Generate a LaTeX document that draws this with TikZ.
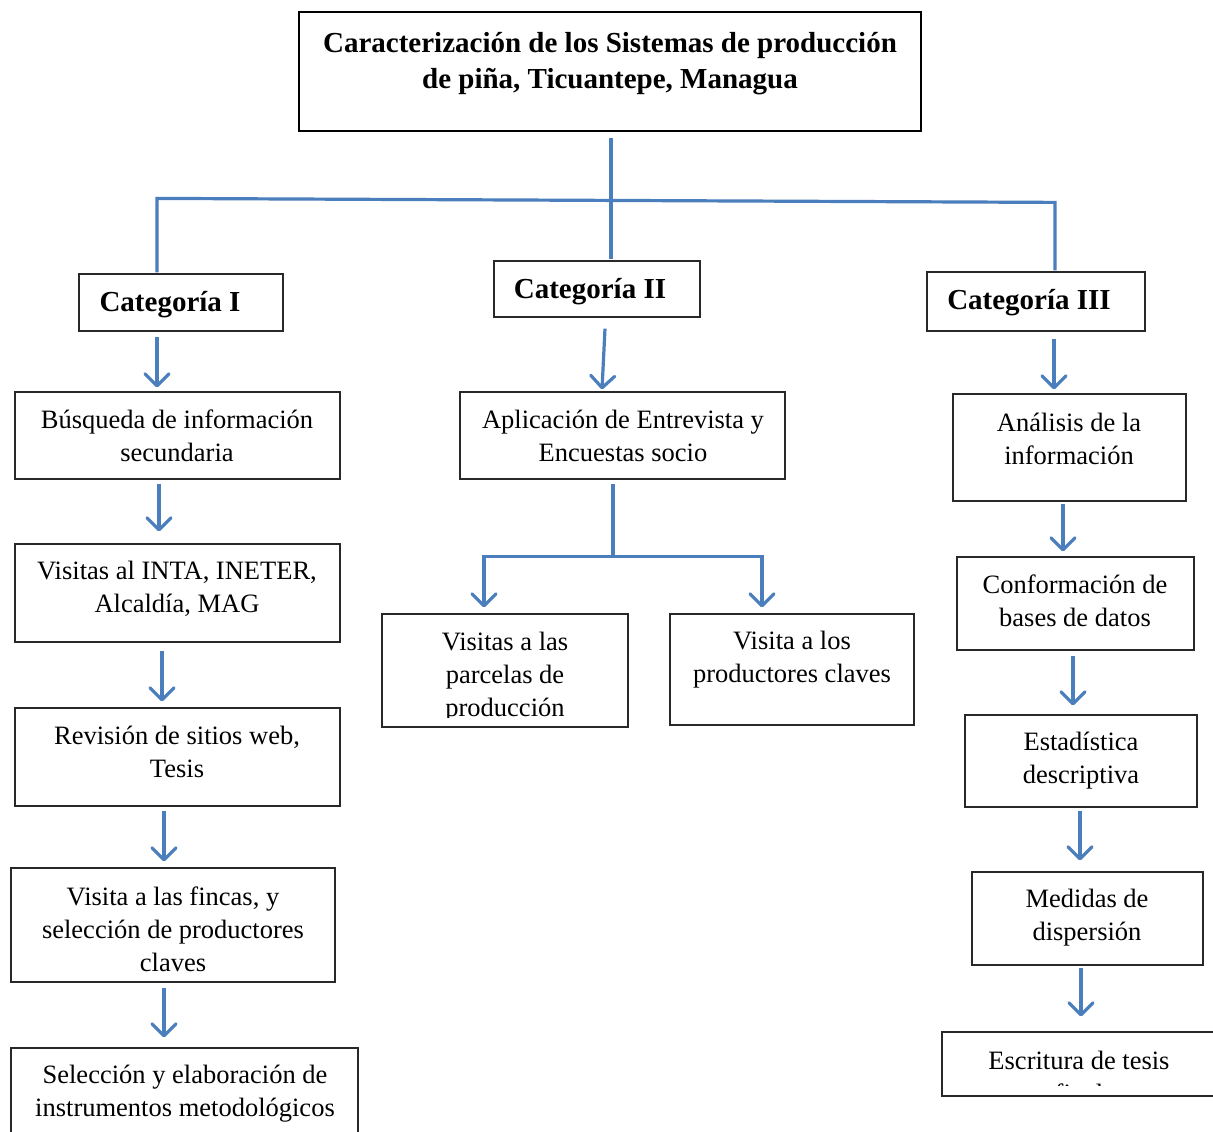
\documentclass[tikz,border=0pt]{standalone}
\usepackage{fontspec}
\setmainfont{Liberation Serif}
\usetikzlibrary{arrows.meta,calc}
\definecolor{flowblue}{RGB}{74,126,188}
\definecolor{boxline}{RGB}{40,40,40}
\tikzset{
  box/.style={draw=boxline, line width=1.2pt, inner sep=0pt, fill=white},
  titlebox/.style={draw=black, line width=2pt, inner sep=0pt},
  txt/.style={inner sep=0pt, align=center, font=\fontsize{26.5}{33}\selectfont},
  cattxt/.style={inner sep=0pt, align=center, font=\fontsize{29}{35}\selectfont\bfseries},
  flow/.style={draw=flowblue, line width=3.2pt},
  arr/.style={flow, -{Straight Barb[length=12pt,width=24pt,line cap=round,line join=round]}}
}
\begin{document}
\begin{tikzpicture}[x=1pt,y=-1pt]
\useasboundingbox (0,0) rectangle (1213,1132);
\clip (0,0) rectangle (1213,1132);
\fill[white] (0,0) rectangle (1213,1132);

% title
\node[titlebox, minimum width=622, minimum height=119] (title) at (610,71.5) {};
\node[cattxt, font=\fontsize{29}{36}\selectfont\bfseries] (titlet) at (610,64) {Caracterización de los Sistemas de producción\\de piña, Ticuantepe, Managua};

% categories
\node[box, minimum width=204, minimum height=57] (cat1) at (181,302.5) {};
\node[cattxt] (cat1t) at (170,305) {Categoría I};
\node[box, minimum width=206, minimum height=56] (cat2) at (597,289) {};
\node[cattxt] (cat2t) at (590,292) {Categoría II};
\node[box, minimum width=218, minimum height=59] (cat3) at (1036,301.5) {};
\node[cattxt] (cat3t) at (1029,303) {Categoría III};

% left column
\node[box, minimum width=325, minimum height=87] (b1) at (177.5,435.5) {};
\node[txt] (b1t) at (177,436) {Búsqueda de información\\secundaria};
\node[box, minimum width=325, minimum height=98] (b2) at (177.5,593) {};
\node[txt] (b2t) at (177,589) {Visitas al INTA, INETER,\\Alcaldía, MAG};
\node[box, minimum width=325, minimum height=98] (b3) at (177.5,757) {};
\node[txt] (b3t) at (177,752) {Revisión de sitios web,\\Tesis};
\node[box, minimum width=324, minimum height=114] (b4) at (173,925) {};
\node[txt] (b4t) at (173,929) {Visita a las fincas, y\\selección de productores\\claves};
\node[box, minimum width=347, minimum height=110] (b5) at (184.5,1103) {};
\node[txt] (b5t) at (185,1094) {Selección y elaboración de\\instrumentos metodológicos};

% middle column
\node[box, minimum width=325, minimum height=87] (c2) at (622.5,435.5) {};
\node[txt] (c2t) at (623,436) {Aplicación de Entrevista y\\Encuestas socio};
\node[box, minimum width=246, minimum height=113] (pl) at (505,670.5) {};
\begin{scope}
\clip ($(pl.north west)+(1,1)$) rectangle ($(pl.north east)+(-1,104)$);
\node[txt] (plt) at (505,677) {Visitas a las\\parcelas de\\producción};
\end{scope}
\node[box, minimum width=244, minimum height=111] (pr) at (792,669.5) {};
\node[txt] (prt) at (792,660) {Visita a los\\productores claves};

% right column
\node[box, minimum width=233, minimum height=107] (r1) at (1069.5,447.5) {};
\node[txt] (r1t) at (1069,439) {Análisis de la\\información};
\node[box, minimum width=237, minimum height=93] (r2) at (1075.5,603.5) {};
\node[txt] (r2t) at (1075,601) {Conformación de\\bases de datos};
\node[box, minimum width=232, minimum height=92] (r3) at (1081,761) {};
\node[txt] (r3t) at (1081,761) {Estadística\\descriptiva};
\node[box, minimum width=231, minimum height=93] (r4) at (1087.5,918.5) {};
\node[txt] (r4t) at (1087,918) {Medidas de\\dispersión};
\node[box, minimum width=300, minimum height=64] (r5) at (1092,1064) {};
\begin{scope}
\clip ($(r5.north west)+(1,1)$) rectangle ($(r5.north east)+(-1,54)$);
\node[txt] (r5t) at (1079,1077) {Escritura de tesis\\final};
\end{scope}

% top connectors
\draw[flow] ($(title.south)+(1,6)$) -- ($(cat2.north)+(14,-1)$);
\draw[flow] ($(cat1.north)+(-24,-1)$) -- ++(0,-74) -- ($(cat3.north)+(19,-69)$) -- ($(cat3.north)+(19,-1)$);

% left arrows
\draw[arr] ($(cat1.south)+(-24,5)$) -- ($(b1.north)+(-20.5,-4)$);
\draw[arr] ($(b1.south)+(-18.5,4)$) -- ($(b2.north)+(-18.5,-12)$);
\draw[arr] ($(b2.south)+(-15.5,8)$) -- ($(b3.north)+(-15.5,-6)$);
\draw[arr] ($(b3.south)+(-13.5,4)$) -- ($(b4.north)+(-9,-6)$);
\draw[arr] ($(b4.south)+(-9,5)$) -- ($(b5.north)+(-20.5,-10)$);

% middle arrows
\draw[arr] ($(cat2.south)+(8,11)$) -- ($(c2.north)+(-20.5,-2)$);
\coordinate (split) at ($(c2.south)+(-9.5,77)$);
\draw[flow] ($(c2.south)+(-9.5,4)$) -- (split);
\draw[arr] (split) -| ($(pl.north)+(-21,-6)$);
\draw[arr] (split) -| ($(pr.north)+(-30,-6)$);

% right arrows
\draw[arr] ($(cat3.south)+(18,7)$) -- ($(r1.north)+(-15.5,-4)$);
\draw[arr] ($(r1.south)+(-6.5,2)$) -- ($(r2.north)+(-12.5,-5)$);
\draw[arr] ($(r2.south)+(-2.5,5)$) -- ($(r3.north)+(-8,-9)$);
\draw[arr] ($(r3.south)+(-1,3)$) -- ($(r4.north)+(-7.5,-11)$);
\draw[arr] ($(r4.south)+(-6.5,2)$) -- ($(r5.north)+(-11,-15)$);
\end{tikzpicture}
\end{document}
